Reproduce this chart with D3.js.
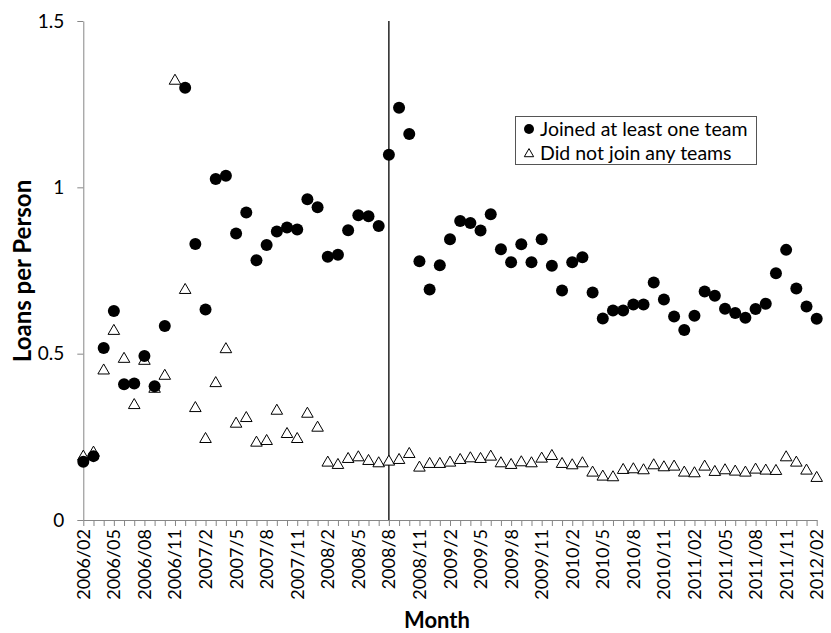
<!DOCTYPE html>
<html>
<head>
<meta charset="utf-8">
<script src="https://cdn.jsdelivr.net/npm/d3@7"></script>
<style>
  html, body { margin: 0; padding: 0; background: #fff; }
  svg { display: block; }
  text { font-family: Lato, "Open Sans", sans-serif; fill: #000; }
</style>
</head>
<body>
<svg id="chart" width="831" height="633"></svg>
<script>
// ---- data ----
const months = [
  "2006/02","2006/03","2006/04","2006/05","2006/06","2006/07","2006/08","2006/09","2006/10","2006/11","2006/12",
  "2007/01","2007/02","2007/03","2007/04","2007/05","2007/06","2007/07","2007/08","2007/09","2007/10","2007/11","2007/12",
  "2008/01","2008/02","2008/03","2008/04","2008/05","2008/06","2008/07","2008/08","2008/09","2008/10","2008/11","2008/12",
  "2009/01","2009/02","2009/03","2009/04","2009/05","2009/06","2009/07","2009/08","2009/09","2009/10","2009/11","2009/12",
  "2010/01","2010/02","2010/03","2010/04","2010/05","2010/06","2010/07","2010/08","2010/09","2010/10","2010/11","2010/12",
  "2011/01","2011/02","2011/03","2011/04","2011/05","2011/06","2011/07","2011/08","2011/09","2011/10","2011/11","2011/12",
  "2012/01","2012/02"
];
const tickMonths = [
  "2006/02","2006/05","2006/08","2006/11","2007/02","2007/05","2007/08","2007/11","2008/02","2008/05","2008/08","2008/11",
  "2009/02","2009/05","2009/08","2009/11","2010/02","2010/05","2010/08","2010/11","2011/02","2011/05","2011/08","2011/11","2012/02"
];
const tickLabels = [
  "2006/02","2006/05","2006/08","2006/11","2007/2","2007/5","2007/8","2007/11","2008/2","2008/5","2008/8","2008/11",
  "2009/2","2009/5","2009/8","2009/11","2010/2","2010/5","2010/8","2010/11","2011/02","2011/05","2011/08","2011/11","2012/02"
];
const joined = [
  0.175,0.192,0.517,0.628,0.408,0.410,0.493,0.402,0.583,null,1.299,
  0.830,0.633,1.025,1.035,0.861,0.924,0.781,0.827,0.867,0.879,0.873,0.964,
  0.940,0.791,0.797,0.871,0.916,0.913,0.884,1.098,1.239,1.160,0.778,0.693,
  0.766,0.844,0.899,0.893,0.870,0.919,0.814,0.775,0.829,0.775,0.844,0.764,
  0.690,0.775,0.790,0.684,0.606,0.630,0.630,0.648,0.648,0.714,0.663,0.612,
  0.571,0.614,0.687,0.674,0.635,0.622,0.608,0.634,0.650,0.742,0.812,0.696,
  0.642,0.605
];
const notJoined = [
  0.190,0.202,0.449,0.568,0.484,0.345,0.478,0.394,0.433,1.320,0.691,
  0.336,0.243,0.411,0.513,0.289,0.306,0.232,0.237,0.328,0.258,0.243,0.319,
  0.277,0.172,0.165,0.183,0.188,0.177,0.170,0.175,0.180,0.198,0.157,0.168,
  0.168,0.172,0.180,0.185,0.183,0.190,0.170,0.165,0.173,0.170,0.184,0.192,
  0.168,0.164,0.170,0.142,0.130,0.128,0.150,0.152,0.149,0.164,0.158,0.160,
  0.142,0.140,0.160,0.144,0.149,0.145,0.142,0.151,0.148,0.147,0.188,0.172,
  0.148,0.126
];
const yTicks = [0, 0.5, 1, 1.5];
const yTickLabels = ["0", "0.5", "1", "1.5"];
const markerMonth = "2008/08";
const seriesNames = ["Joined at least one team", "Did not join any teams"];

// ---- layout ----
const svg = d3.select("#chart");
const x = d3.scalePoint().domain(months).range([83.3, 816.7]);
const y = d3.scaleLinear().domain([0, 1.5]).range([520, 21]);
const axisColor = "#868686";

// y axis
const yAxis = d3.axisLeft(y).tickValues(yTicks)
  .tickFormat((d, i) => yTickLabels[i]).tickSize(6).tickSizeOuter(0).tickPadding(13);
const gy = svg.append("g").attr("transform", `translate(${x(months[0])},0)`).call(yAxis);
gy.select(".domain").attr("stroke", axisColor);
gy.selectAll(".tick line").attr("stroke", axisColor);
gy.selectAll(".tick text").style("font-size", "19px").attr("font-family", "Lato");

// x axis
const xAxis = d3.axisBottom(x).tickValues(months).tickFormat(() => "").tickSize(6).tickSizeOuter(0);
const gx = svg.append("g").attr("transform", `translate(0,${y(0)})`).call(xAxis);
gx.select(".domain").attr("stroke", axisColor);
gx.selectAll(".tick line").attr("stroke", axisColor);

// x tick labels (rotated)
svg.append("g").selectAll("text").data(tickMonths).join("text")
  .attr("transform", d => `translate(${x(d) + 6.5},${y(0) + 9}) rotate(-90)`)
  .attr("text-anchor", "end")
  .style("font-size", "18px")
  .text((d, i) => tickLabels[i]);

// vertical marker line
svg.append("line")
  .attr("x1", x(markerMonth)).attr("x2", x(markerMonth))
  .attr("y1", y(1.5)).attr("y2", y(0))
  .attr("stroke", "#000").attr("stroke-width", 1.3);

// triangles (not joined)
const tri = d3.symbol().type(d3.symbolTriangle).size(58);
svg.append("g").selectAll("path").data(notJoined.map((v, i) => ({m: months[i], v})).filter(d => d.v != null))
  .join("path")
  .attr("d", tri)
  .attr("transform", d => `translate(${x(d.m)},${y(d.v)})`)
  .attr("fill", "#fff").attr("stroke", "#000").attr("stroke-width", 1);

// circles (joined)
svg.append("g").selectAll("circle").data(joined.map((v, i) => ({m: months[i], v})).filter(d => d.v != null))
  .join("circle")
  .attr("cx", d => x(d.m)).attr("cy", d => y(d.v)).attr("r", 6)
  .attr("fill", "#000");

// axis titles
svg.append("text")
  .attr("transform", `translate(31,271) rotate(-90)`)
  .attr("text-anchor", "middle")
  .style("font-size", "24px").style("font-weight", "bold")
  .text("Loans per Person");
svg.append("text")
  .attr("x", 437).attr("y", 628)
  .attr("text-anchor", "middle")
  .style("font-size", "22px").style("font-weight", "bold")
  .text("Month");

// legend
const lg = svg.append("g");
lg.append("rect").attr("x", 515.5).attr("y", 116.5).attr("width", 241).attr("height", 48)
  .attr("fill", "#fff").attr("stroke", "#555").attr("stroke-width", 1);
lg.append("circle").attr("cx", 529).attr("cy", 129).attr("r", 5).attr("fill", "#000");
lg.append("path").attr("d", d3.symbol().type(d3.symbolTriangle).size(38))
  .attr("transform", "translate(529,154)").attr("fill", "#fff").attr("stroke", "#000");
lg.append("text").attr("x", 540).attr("y", 135.5).style("font-size", "19.5px").text(seriesNames[0]);
lg.append("text").attr("x", 540).attr("y", 160).style("font-size", "19.5px").text(seriesNames[1]);
</script>
</body>
</html>
